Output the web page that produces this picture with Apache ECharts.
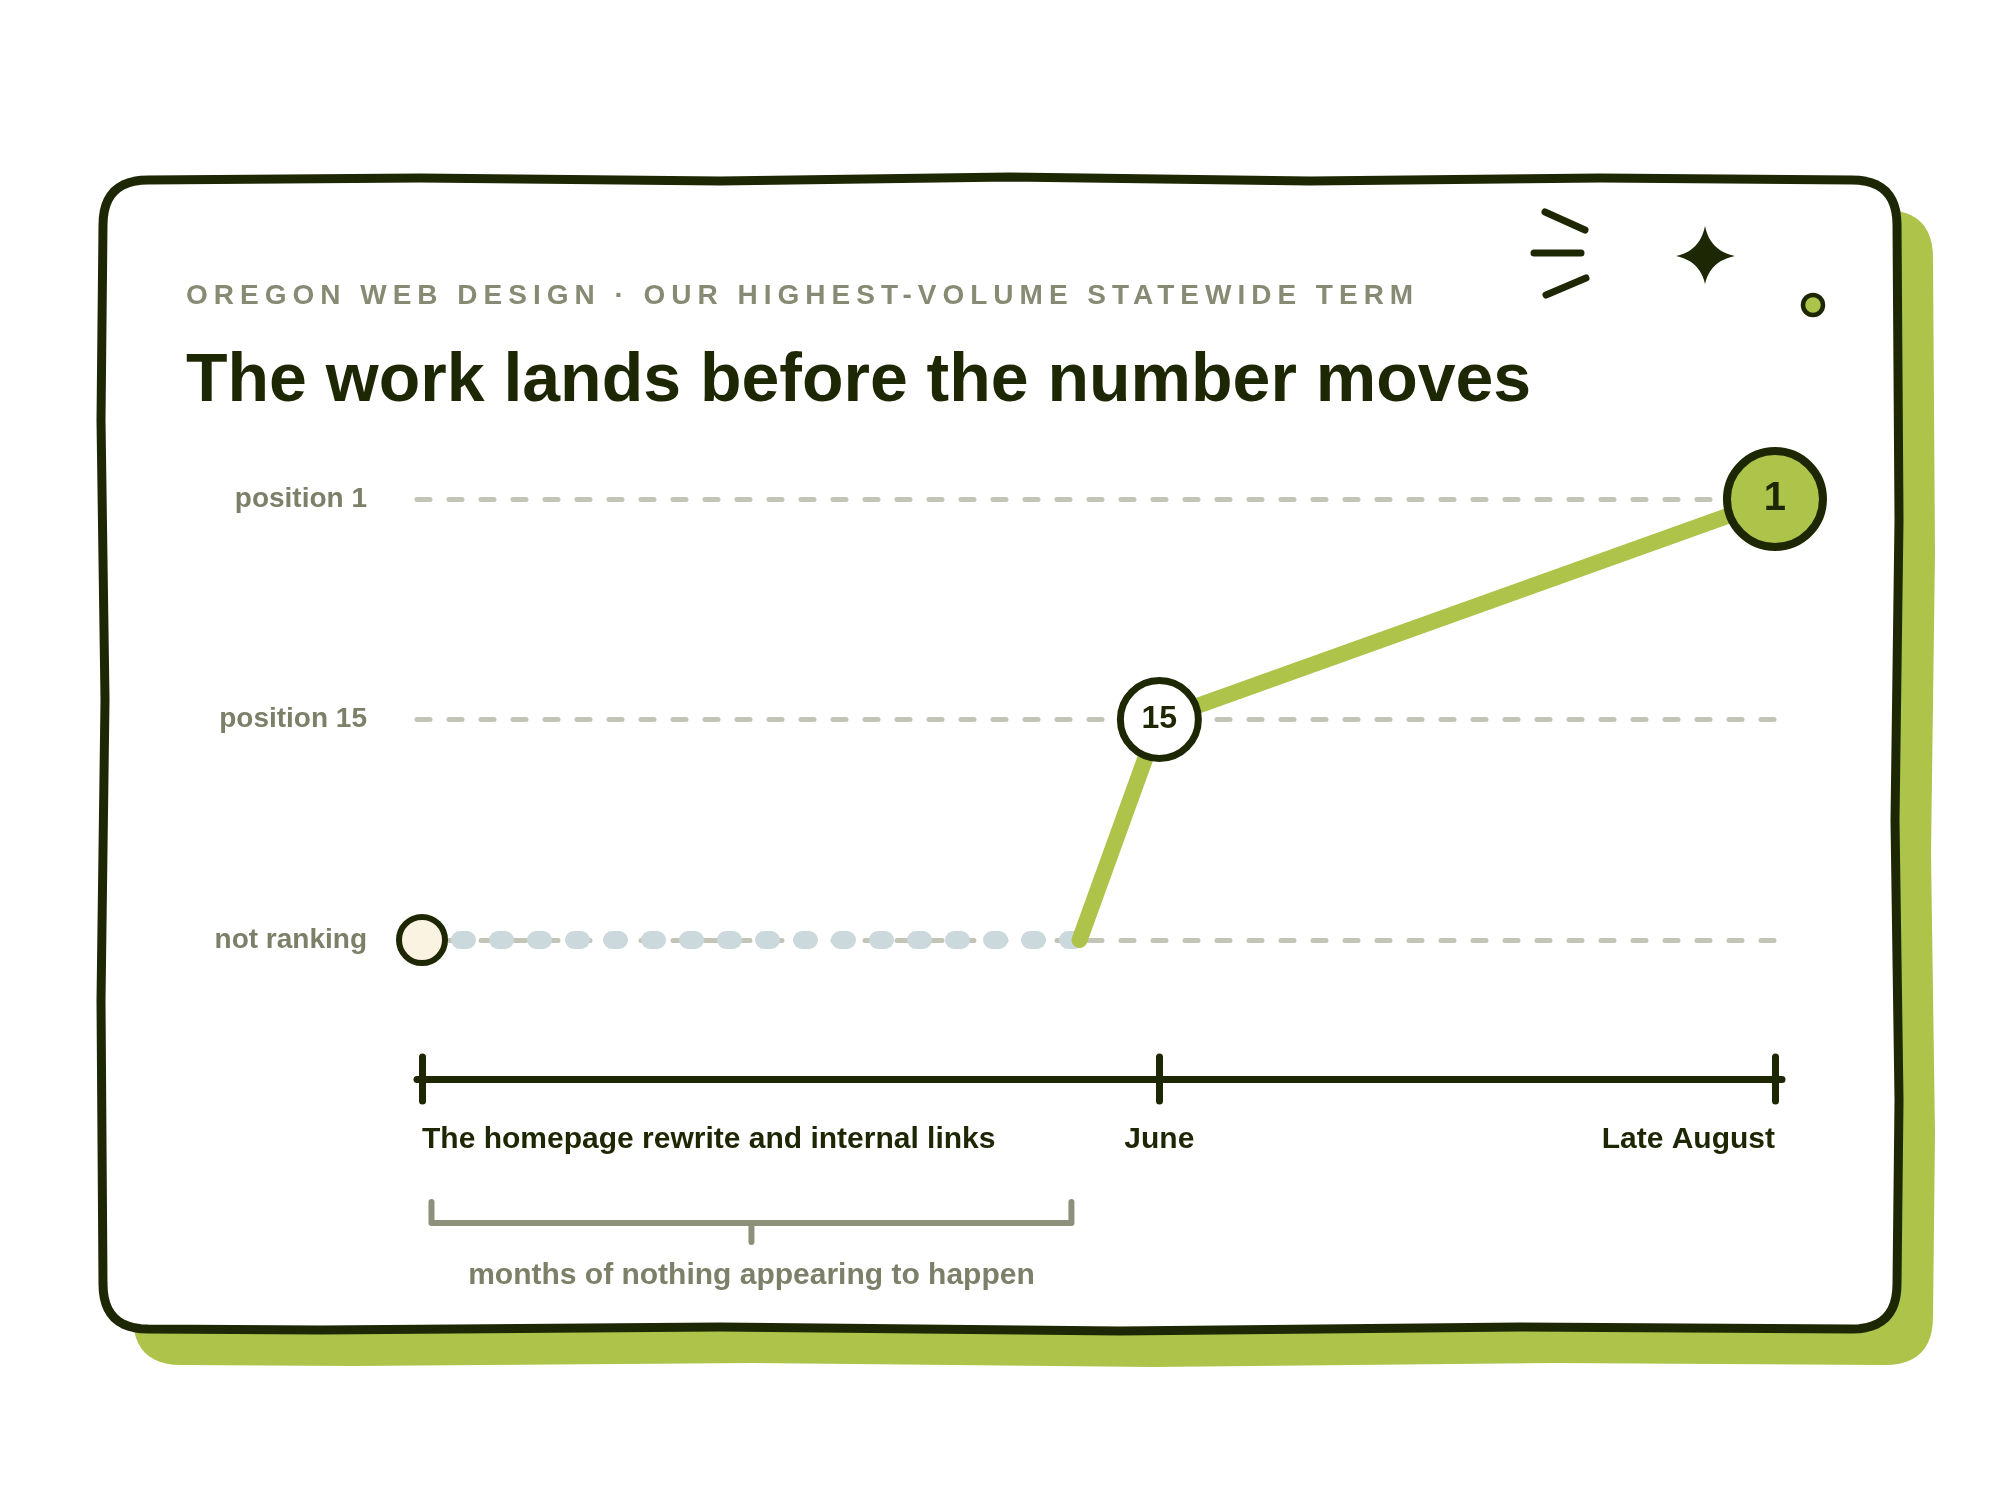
<!DOCTYPE html>
<html><head><meta charset="utf-8">
<script src="https://cdn.jsdelivr.net/npm/echarts@6/dist/echarts.min.js"></script>
<style>
html,body{margin:0;padding:0;background:#fff;}
#wrap{position:relative;width:2000px;height:1500px;}
#chart{position:absolute;left:0;top:0;width:2000px;height:1500px;}
#kicker{position:absolute;left:186px;top:281px;font:bold 28px 'Liberation Sans',Arial,sans-serif;letter-spacing:6px;color:#878b73;line-height:28px;white-space:nowrap;}
</style></head><body>
<div id="wrap"><div id="chart"></div><div id="kicker"></div></div>
<script>
// ---- data ----
const kicker = 'OREGON WEB DESIGN \u00b7 OUR HIGHEST-VOLUME STATEWIDE TERM';
const title = 'The work lands before the number moves';
const rankLevels = ['not ranking', 'position 15', 'position 1'];
const quietX = [0, 48.6];
const quietRank = ['not ranking', 'not ranking'];
const climbX = [48.6, 54.5, 100];
const climbRank = ['not ranking', 'position 15', 'position 1'];
const milestoneX = [0, 54.5, 100];
const milestoneRank = ['not ranking', 'position 15', 'position 1'];
const milestoneLabels = ['', '15', '1'];
const tickX = [0, 54.5, 100];
const tickLabels = ['The homepage rewrite and internal links', 'June', 'Late August'];
const bracketX = [0.7, 48];
const bracketNote = 'months of nothing appearing to happen';

// ---- styles ----
const DARK = '#1e2704';
const GREEN = '#adc34a';
const MUTED = '#7c8068';
const FONT = "'Liberation Sans', Arial, sans-serif";
document.getElementById('kicker').textContent = kicker;

const chart = echarts.init(document.getElementById('chart'), null, {renderer: 'canvas'});

function labelFor(v) {
  let best = 0, d = Infinity;
  tickX.forEach((t, i) => { if (Math.abs(t - v) < d) { d = Math.abs(t - v); best = i; } });
  return tickLabels[best];
}
const xBase = {type: 'value', min: -0.37, max: 100.52, position: 'bottom', offset: 139,
  splitLine: {show: false}};
const labelStyle = {color: DARK, fontWeight: 'bold', fontSize: 30, fontFamily: FONT, margin: 46, formatter: labelFor};

const milestoneStyles = [
  {size: 46, fill: '#faf3e1', border: 6, font: 30},
  {size: 78, fill: '#ffffff', border: 7, font: 32},
  {size: 96, fill: GREEN, border: 8, font: 40}
];

chart.setOption({
  animation: false,
  backgroundColor: '#ffffff',
  grid: {left: 417, right: 218, top: 499, bottom: 560, containLabel: false},
  xAxis: [
    Object.assign({}, xBase, {
      axisLine: {show: true, lineStyle: {color: DARK, width: 7, cap: 'round'}},
      axisTick: {show: true, customValues: tickX, length: 22, inside: false, lineStyle: {color: DARK, width: 7, cap: 'round'}},
      axisLabel: Object.assign({show: true, customValues: [tickX[0]], align: 'left'}, labelStyle)
    }),
    Object.assign({}, xBase, {
      axisLine: {show: false},
      axisTick: {show: true, customValues: tickX, length: 22, inside: true, lineStyle: {color: DARK, width: 7, cap: 'round'}},
      axisLabel: Object.assign({show: true, customValues: [tickX[1]], align: 'center'}, labelStyle)
    }),
    Object.assign({}, xBase, {
      axisLine: {show: false},
      axisTick: {show: false},
      axisLabel: Object.assign({show: true, customValues: [tickX[2]], align: 'right'}, labelStyle)
    })
  ],
  yAxis: {
    type: 'category', data: rankLevels, boundaryGap: false,
    axisLine: {show: false}, axisTick: {show: false},
    axisLabel: {margin: 50, color: MUTED, fontWeight: 'bold', fontSize: 28, fontFamily: FONT, padding: [8, 0, 0, 0]},
    splitLine: {show: true, lineStyle: {color: '#c2c4b6', width: 5, type: [13, 19], cap: 'round'}}
  },
  series: [
    {type: 'line', name: 'quiet', data: quietX.map((x, i) => [x, quietRank[i]]), symbol: 'none', silent: true, z: 3,
      lineStyle: {color: '#cbd8dc', width: 18, type: [7, 31], cap: 'round'}},
    {type: 'line', name: 'climb', data: climbX.map((x, i) => [x, climbRank[i]]), symbol: 'none', silent: true, z: 4,
      lineStyle: {color: GREEN, width: 16, cap: 'round', join: 'round'}},
    {type: 'scatter', name: 'milestones', z: 5, silent: true,
      data: milestoneX.map((x, i) => ({
        value: [x, milestoneRank[i]],
        symbol: 'circle',
        symbolSize: milestoneStyles[i].size,
        itemStyle: {color: milestoneStyles[i].fill, borderColor: DARK, borderWidth: milestoneStyles[i].border, opacity: 1},
        label: {show: milestoneLabels[i] !== '', position: 'inside', formatter: milestoneLabels[i],
          color: DARK, fontWeight: 'bold', fontSize: milestoneStyles[i].font, fontFamily: FONT}
      }))}
  ]
});

// sample a path made of L / Q segments into polygon points
function sample(start, segs) {
  const pts = [start.slice()];
  let cur = start.slice();
  segs.forEach(s => {
    if (s[0] === 'L') { cur = [s[1], s[2]]; pts.push(cur); }
    else {
      const [_, cx, cy, x, y] = s;
      for (let k = 1; k <= 12; k++) {
        const t = k / 12, u = 1 - t;
        pts.push([u * u * cur[0] + 2 * u * t * cx + t * t * x, u * u * cur[1] + 2 * u * t * cy + t * t * y]);
      }
      cur = [x, y];
    }
  });
  return pts;
}
const cardPts = sample([148, 180], [
  ['L', 420, 178], ['L', 720, 181], ['L', 1010, 177], ['L', 1310, 181], ['L', 1600, 178], ['L', 1852, 180],
  ['Q', 1897, 180, 1897, 225], ['L', 1899, 520], ['L', 1895, 820], ['L', 1899, 1100], ['L', 1897, 1284],
  ['Q', 1897, 1329, 1852, 1329], ['L', 1520, 1327], ['L', 1120, 1331], ['L', 720, 1327], ['L', 320, 1330],
  ['L', 148, 1329], ['Q', 103, 1329, 103, 1284], ['L', 101, 1000], ['L', 105, 700], ['L', 101, 420],
  ['L', 103, 225], ['Q', 103, 180, 148, 180]
]);
const starPts = sample([1705, 226], [
  ['Q', 1710, 251, 1735, 256], ['Q', 1710, 261, 1705, 284], ['Q', 1700, 261, 1676, 256], ['Q', 1700, 251, 1705, 226]
]);

const bx0 = chart.convertToPixel({xAxisIndex: 0}, bracketX[0]);
const bx1 = chart.convertToPixel({xAxisIndex: 0}, bracketX[1]);
const bmid = (bx0 + bx1) / 2;
const BR = '#8d917b';

chart.setOption({
  graphic: [
    {type: 'polygon', id: 'shadow', z: -12, x: 33, y: 33, shape: {points: cardPts}, style: {fill: GREEN, stroke: GREEN, lineWidth: 6, lineJoin: 'round'}},
    {type: 'polygon', id: 'card', z: -11, shape: {points: cardPts}, style: {fill: '#ffffff', stroke: DARK, lineWidth: 9, lineJoin: 'round'}},
    {type: 'text', id: 'title', x: 186, y: 382, style: {text: title, font: 'bold 68px ' + FONT, fill: DARK, align: 'left', verticalAlign: 'middle'}},
    {type: 'line', id: 'd1', shape: {x1: 1545, y1: 212, x2: 1585, y2: 230}, style: {stroke: DARK, lineWidth: 7, lineCap: 'round'}},
    {type: 'line', id: 'd2', shape: {x1: 1534, y1: 253, x2: 1581, y2: 253}, style: {stroke: DARK, lineWidth: 7, lineCap: 'round'}},
    {type: 'line', id: 'd3', shape: {x1: 1546, y1: 295, x2: 1586, y2: 278}, style: {stroke: DARK, lineWidth: 7, lineCap: 'round'}},
    {type: 'polygon', id: 'star', shape: {points: starPts}, style: {fill: DARK}},
    {type: 'circle', id: 'dot', shape: {cx: 1813, cy: 305, r: 10}, style: {fill: GREEN, stroke: DARK, lineWidth: 4.5}},
    {type: 'polyline', id: 'bracket', shape: {points: [[bx0, 1202], [bx0, 1223], [bx1, 1223], [bx1, 1202]]}, style: {stroke: BR, lineWidth: 6, fill: null, lineCap: 'round', lineJoin: 'round'}},
    {type: 'line', id: 'bracketTick', shape: {x1: bmid, y1: 1223, x2: bmid, y2: 1242}, style: {stroke: BR, lineWidth: 6, lineCap: 'round'}},
    {type: 'text', id: 'note', x: bmid, y: 1276, style: {text: bracketNote, font: 'bold 30px ' + FONT, fill: MUTED, align: 'center', verticalAlign: 'middle'}}
  ]
});
</script>
</body></html>
